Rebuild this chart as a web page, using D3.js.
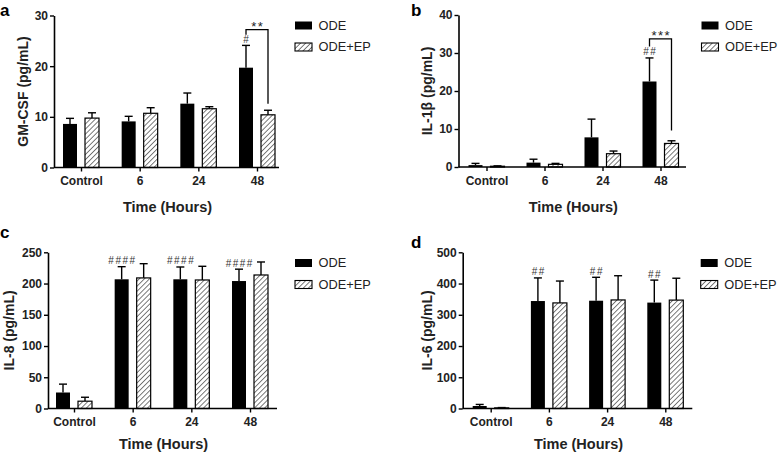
<!DOCTYPE html>
<html>
<head>
<meta charset="utf-8">
<script src="https://cdn.jsdelivr.net/npm/d3@7"></script>
<style>
  body { margin: 0; background: #fff; }
  svg { display: block; font-family: "Liberation Sans", Arial, sans-serif; }
</style>
</head>
<body>
<div id="fig"></div>
<script>
// x categories (time points)
const groups = ["Control", "6", "24", "48"];
const seriesNames = ["ODE", "ODE+EP"];

// GM-CSF (pg/mL)
const gmcsfOde = [8.6, 9.1, 12.6, 19.7];
const gmcsfOdeSd = [1.1, 1.0, 2.1, 4.4];
const gmcsfEp = [9.75, 10.7, 11.6, 10.4];
const gmcsfEpSd = [1.05, 1.1, 0.4, 0.9];

// IL-1beta (pg/mL)
const il1bOde = [0.5, 1.15, 7.8, 22.5];
const il1bOdeSd = [0.45, 0.9, 4.8, 6.2];
const il1bEp = [0.2, 0.7, 3.5, 6.2];
const il1bEpSd = [0.1, 0.25, 0.7, 0.7];

// IL-8 (pg/mL)
const il8Ode = [25.6, 206.8, 206.8, 204];
const il8OdeSd = [13.4, 20.2, 19.7, 19];
const il8Ep = [11.7, 209, 205.7, 213.7];
const il8EpSd = [6.3, 22.8, 21.9, 20.8];

// IL-6 (pg/mL)
const il6Ode = [8, 344, 345, 339];
const il6OdeSd = [5, 74, 75, 72];
const il6Ep = [2, 338, 347.5, 347];
const il6EpSd = [1, 70, 77.5, 70];

// y tick values
const gmcsfTicks = [0, 10, 20, 30];
const il1bTicks = [0, 10, 20, 30, 40];
const il8Ticks = [0, 50, 100, 150, 200, 250];
const il6Ticks = [0, 100, 200, 300, 400, 500];

// "#" marks above the ODE bars, per group
const gmcsfHash = ["", "", "", "#"];
const il1bHash = ["", "", "", "##"];
const il8Hash = ["", "####", "####", "####"];
const il6Hash = ["", "##", "##", "##"];

// significance brackets between ODE and ODE+EP (values in data units)
const gmcsfBracket = [{ group: "48", label: "**", top: 27.2, leftEnd: 26.2, rightEnd: 12.6 }];
const il1bBracket = [{ group: "48", label: "***", top: 33.7, leftEnd: 31.7, rightEnd: 9.6 }];

const W = 778, H = 457;
const svg = d3.select("#fig").append("svg").attr("width", W).attr("height", H);

// hatch for ODE+EP bars
const defs = svg.append("defs");
const pat = defs.append("pattern")
  .attr("id", "hatch")
  .attr("patternUnits", "userSpaceOnUse")
  .attr("width", 3.6)
  .attr("height", 3.6)
  .attr("patternTransform", "rotate(45)");
pat.append("rect").attr("width", 3.6).attr("height", 3.6).attr("fill", "#fff");
pat.append("line")
  .attr("x1", 0).attr("y1", 0).attr("x2", 0).attr("y2", 3.6)
  .attr("stroke", "#333").attr("stroke-width", 1.3);

const panels = [
  { letter: "a", lx: 0, ly: 16, x0: 54, x1: 279, c0: 81, c1: 257, top: 15.5, bottom: 167.5,
    ticks: gmcsfTicks, title: "GM-CSF (pg/mL)", tx: 23, xty: 212, legX: 295, legY: 21.5,
    ode: gmcsfOde, odeSd: gmcsfOdeSd, ep: gmcsfEp, epSd: gmcsfEpSd, hash: gmcsfHash, brackets: gmcsfBracket },
  { letter: "b", lx: 411, ly: 16, x0: 458.5, x1: 686, c0: 486.5, c1: 660.5, top: 15, bottom: 167,
    ticks: il1bTicks, title: "IL-1β (pg/mL)", tx: 427.5, xty: 212, legX: 701.5, legY: 21.5,
    ode: il1bOde, odeSd: il1bOdeSd, ep: il1bEp, epSd: il1bEpSd, hash: il1bHash, brackets: il1bBracket },
  { letter: "c", lx: 0, ly: 238, x0: 48, x1: 277, c0: 74, c1: 250, top: 252.3, bottom: 408.5,
    ticks: il8Ticks, title: "IL-8 (pg/mL)", tx: 9, xty: 449, legX: 295, legY: 259,
    ode: il8Ode, odeSd: il8OdeSd, ep: il8Ep, epSd: il8EpSd, hash: il8Hash, brackets: [] },
  { letter: "d", lx: 411, ly: 248, x0: 462.7, x1: 692.3, c0: 490.7, c1: 665.3, top: 252.3, bottom: 408.5,
    ticks: il6Ticks, title: "IL-6 (pg/mL)", tx: 427, xty: 449, legX: 700.7, legY: 259,
    ode: il6Ode, odeSd: il6OdeSd, ep: il6Ep, epSd: il6EpSd, hash: il6Hash, brackets: [] }
];

const barW = 14, gap = 4, capW = 8;

panels.forEach(function (p) {
  const g = svg.append("g");

  const x = d3.scalePoint().domain(groups).range([p.c0, p.c1]);
  const y = d3.scaleLinear().domain([0, d3.max(p.ticks)]).range([p.bottom, p.top]);

  // bars: ODE (solid) then ODE+EP (hatched)
  const rows = groups.map((grp, i) => ({ grp: grp, ode: p.ode[i], odeSd: p.odeSd[i], ep: p.ep[i], epSd: p.epSd[i], hash: p.hash[i] }));

  // error bars (upper only)
  const err = [];
  rows.forEach(function (r) {
    err.push({ cx: x(r.grp) - gap - barW / 2, v: r.ode, e: r.ode + r.odeSd });
    err.push({ cx: x(r.grp) + gap + barW / 2, v: r.ep, e: r.ep + r.epSd });
  });
  g.selectAll(".ev").data(err).enter().append("line")
    .attr("x1", d => d.cx).attr("x2", d => d.cx)
    .attr("y1", d => y(d.v)).attr("y2", d => y(d.e))
    .attr("stroke", "#000").attr("stroke-width", 1.4);
  g.selectAll(".ec").data(err).enter().append("line")
    .attr("x1", d => d.cx - capW / 2).attr("x2", d => d.cx + capW / 2)
    .attr("y1", d => y(d.e)).attr("y2", d => y(d.e))
    .attr("stroke", "#000").attr("stroke-width", 1.4);

  g.selectAll(".ode").data(rows).enter().append("rect")
    .attr("x", d => x(d.grp) - gap - barW)
    .attr("y", d => y(d.ode))
    .attr("width", barW)
    .attr("height", d => y(0) - y(d.ode))
    .attr("fill", "#000");

  g.selectAll(".ep").data(rows).enter().append("rect")
    .attr("x", d => x(d.grp) + gap)
    .attr("y", d => y(d.ep))
    .attr("width", barW)
    .attr("height", d => y(0) - y(d.ep))
    .attr("fill", "url(#hatch)")
    .attr("stroke", "#000")
    .attr("stroke-width", 1.2);

  // # marks
  g.selectAll(".hash").data(rows.filter(d => d.hash)).enter().append("text")
    .attr("x", d => x(d.grp) - gap - barW / 2 + 0.8)
    .attr("y", d => y(d.ode + d.odeSd) - 2.5)
    .attr("text-anchor", "middle")
    .style("font-size", "10px")
    .style("letter-spacing", "1.5px")
    .attr("fill", "#333")
    .text(d => d.hash);

  // brackets
  p.brackets.forEach(function (b) {
    const xl = x(b.group) - gap - barW / 2, xr = x(b.group) + gap + barW / 2;
    g.append("path")
      .attr("d", `M${xl},${y(b.leftEnd)}V${y(b.top)}H${xr}V${y(b.rightEnd)}`)
      .attr("fill", "none").attr("stroke", "#000").attr("stroke-width", 1.3);
    g.append("text")
      .attr("x", (xl + xr) / 2 + 0.8)
      .attr("y", y(b.top) + 1.5)
      .attr("text-anchor", "middle")
      .style("font-size", "13px")
      .style("letter-spacing", "1.5px")
      .attr("fill", "#222")
      .text(b.label);
  });

  // y axis
  const yAxis = g.append("g")
    .attr("transform", `translate(${p.x0},0)`)
    .call(d3.axisLeft(y).tickValues(p.ticks).tickSize(4).tickPadding(2).tickSizeOuter(0));
  yAxis.select(".domain").attr("stroke-width", 1.6);
  yAxis.selectAll(".tick line").attr("stroke-width", 1.4);
  yAxis.selectAll("text").style("font-size", "12px").style("font-weight", "bold").attr("fill", "#222");

  // x axis
  const xAxis = g.append("g")
    .attr("transform", `translate(0,${p.bottom})`)
    .call(d3.axisBottom(x).tickSize(4).tickPadding(5).tickSizeOuter(0));
  xAxis.select(".domain").remove();
  xAxis.append("line")
    .attr("x1", p.x0).attr("x2", p.x1)
    .attr("stroke", "#000").attr("stroke-width", 1.6);
  xAxis.selectAll(".tick line").attr("stroke-width", 1.4);
  xAxis.selectAll("text").style("font-size", "12px").style("font-weight", "bold").attr("fill", "#222");

  // axis titles
  g.append("text")
    .attr("transform", `translate(${p.tx},${(p.top + p.bottom) / 2}) rotate(-90)`)
    .attr("text-anchor", "middle")
    .attr("dy", "0.35em")
    .style("font-size", "14px")
    .style("font-weight", "bold")
    .attr("fill", "#222")
    .text(p.title);
  g.append("text")
    .attr("x", (p.x0 + p.x1) / 2 + 1)
    .attr("y", p.xty)
    .attr("text-anchor", "middle")
    .style("font-size", "14.5px")
    .style("font-weight", "bold")
    .attr("fill", "#222")
    .text("Time (Hours)");

  // panel letter
  g.append("text")
    .attr("x", p.lx).attr("y", p.ly)
    .style("font-size", "17px")
    .style("font-weight", "bold")
    .text(p.letter);

  // legend
  const leg = g.selectAll(".leg").data(seriesNames).enter().append("g")
    .attr("transform", (d, i) => `translate(${p.legX},${p.legY + i * 21.5})`);
  leg.append("rect")
    .attr("width", 17).attr("height", 8)
    .attr("fill", (d, i) => i === 0 ? "#000" : "url(#hatch)")
    .attr("stroke", "#000").attr("stroke-width", (d, i) => i === 0 ? 0 : 1.1);
  leg.append("text")
    .attr("x", 23.5).attr("y", 4).attr("dy", "0.35em")
    .style("font-size", "12.8px")
    .attr("fill", "#222")
    .text(d => d);
});
</script>
</body>
</html>
